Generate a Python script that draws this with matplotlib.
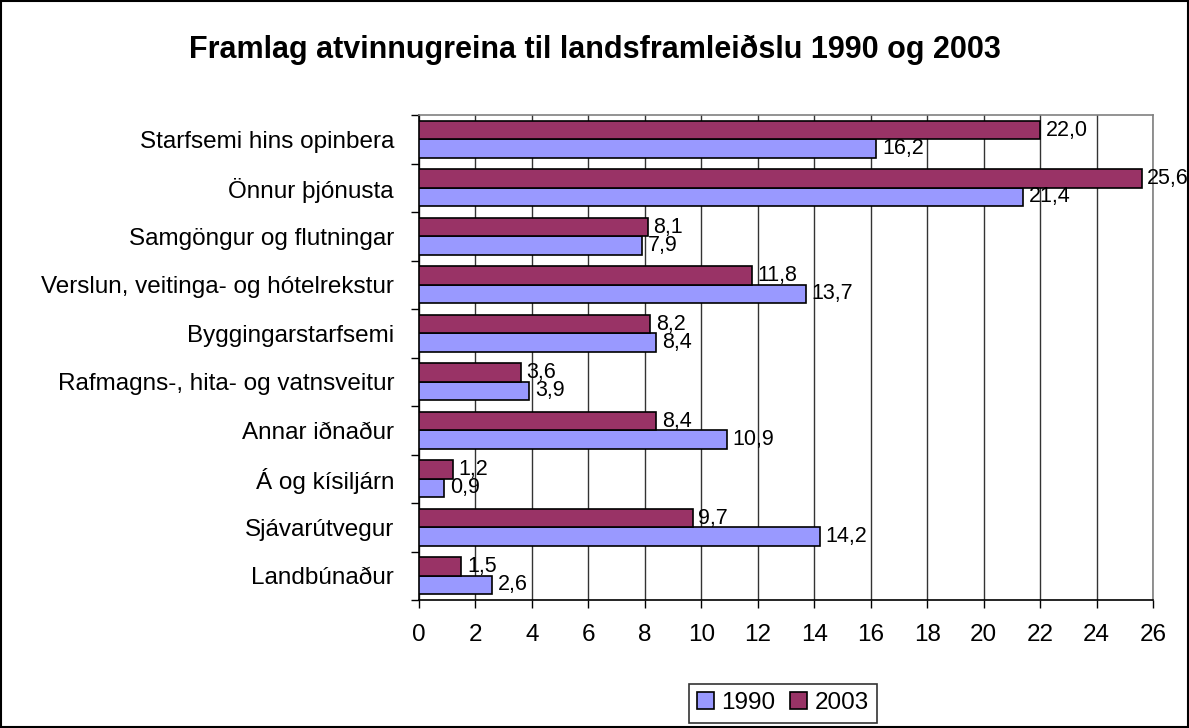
import numpy as np
import matplotlib.pyplot as plt
from matplotlib.patches import Rectangle

plt.rcParams['font.family'] = ['Liberation Sans', 'DejaVu Sans']

# categories listed bottom to top, as Excel draws them
categories = [
    'Landbúnaður',
    'Sjávarútvegur',
    'Á og kísiljárn',
    'Annar iðnaður',
    'Rafmagns-, hita- og vatnsveitur',
    'Byggingarstarfsemi',
    'Verslun, veitinga- og hótelrekstur',
    'Samgöngur og flutningar',
    'Önnur þjónusta',
    'Starfsemi hins opinbera',
]
values_1990 = [2.6, 14.2, 0.9, 10.9, 3.9, 8.4, 13.7, 7.9, 21.4, 16.2]
values_2003 = [1.5, 9.7, 1.2, 8.4, 3.6, 8.2, 11.8, 8.1, 25.6, 22.0]
x_ticks = list(range(0, 27, 2))


def fmt(v):
    return f'{v:.1f}'.replace('.', ',')


fig = plt.figure(figsize=(11.89, 7.28), dpi=100)
ax = fig.add_axes([0.3524, 0.1758, 0.6173, 0.6662])

y = np.arange(len(categories))
h = 0.38
b1 = ax.barh(y - h / 2, values_1990, height=h, color='#9999FF',
             edgecolor='black', linewidth=1.2, label='1990', zorder=3)
b2 = ax.barh(y + h / 2, values_2003, height=h, color='#993366',
             edgecolor='black', linewidth=1.2, label='2003', zorder=3)

for bars, vals in ((b1, values_1990), (b2, values_2003)):
    for bar, v in zip(bars, vals):
        ax.text(v + 0.2, bar.get_y() + bar.get_height() / 2, fmt(v),
                va='center', ha='left', fontsize=15.5, zorder=4)

ax.set_xlim(0, 26)
ax.set_ylim(-0.5, len(categories) - 0.5)
ax.set_xticks(x_ticks)
ax.set_xticklabels([str(t) for t in x_ticks], fontsize=17.5)
ax.tick_params(axis='x', direction='out', length=6, width=1, pad=11)

ax.set_yticks(y)
ax.set_yticklabels(categories, fontsize=17.5)
ax.tick_params(axis='y', which='major', length=0, pad=18)
ax.set_yticks(np.arange(-0.5, len(categories), 1), minor=True)
ax.tick_params(axis='y', which='minor', direction='out', length=6, width=1)

ax.grid(axis='x', color='#333333', linewidth=1, zorder=0)
ax.spines['left'].set_color('black')
ax.spines['bottom'].set_color('black')
ax.spines['top'].set_color('#808080')
ax.spines['right'].set_color('#808080')
for s in ax.spines.values():
    s.set_linewidth(1.2)

fig.text(0.5, 1 - 50 / 728, 'Framlag atvinnugreina til landsframleiðslu 1990 og 2003',
         fontsize=22, fontweight='bold', ha='center', va='center')

leg = fig.legend(handles=[b1, b2], labels=['1990', '2003'], loc='center',
                 bbox_to_anchor=(0.6586, 0.0343), ncol=2, fontsize=17.5,
                 frameon=True, fancybox=False, edgecolor='black',
                 handlelength=0.7, handleheight=0.7, handletextpad=0.3,
                 columnspacing=0.6, borderpad=0.35)
leg.get_frame().set_linewidth(1.2)

fig.patches.append(Rectangle((0.001, 0.001), 0.998, 0.998, transform=fig.transFigure,
                             fill=False, edgecolor='black', linewidth=1.5))

fig.savefig('out.png', dpi=100)
